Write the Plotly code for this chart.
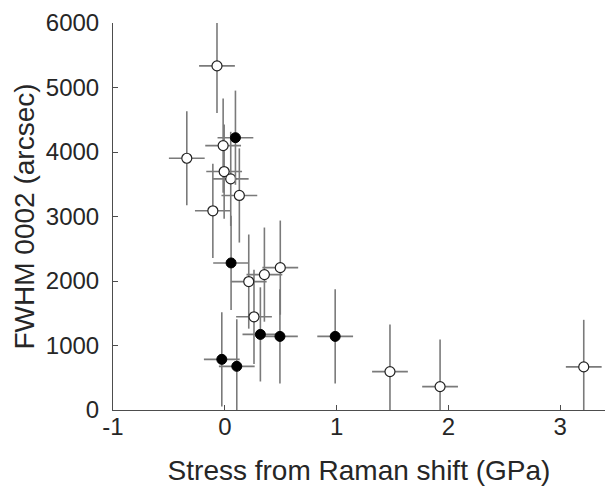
import plotly.graph_objects as go

# Open-circle series
open_x = [-0.07, -0.015, -0.34, -0.006, 0.053, 0.13, -0.107, 0.496, 0.354, 0.214, 0.261, 1.477, 1.925, 3.21]
open_y = [5335, 4099, 3903, 3697, 3583, 3326, 3088, 2207, 2099, 1991, 1445, 595, 363, 668]
# Filled-circle series
fill_x = [0.095, 0.056, 0.318, 0.493, 0.987, -0.027, 0.107]
fill_y = [4222, 2280, 1172, 1141, 1141, 785, 677]

x_err = 0.16
y_err = 730

x_ticks = [-1, 0, 1, 2, 3]
y_ticks = [0, 1000, 2000, 3000, 4000, 5000, 6000]

FONT = "Liberation Sans, Arial, sans-serif"
ebar = dict(color="#7a7a7a", thickness=1.6, width=0)

fig = go.Figure()
fig.add_trace(go.Scatter(
    x=open_x, y=open_y, mode="markers",
    error_x=dict(type="constant", value=x_err, **ebar),
    error_y=dict(type="constant", value=y_err, **ebar),
    marker=dict(symbol="circle", size=10, color="white", line=dict(color="#222", width=1.2)),
    showlegend=False,
))
fig.add_trace(go.Scatter(
    x=fill_x, y=fill_y, mode="markers",
    error_x=dict(type="constant", value=x_err, **ebar),
    error_y=dict(type="constant", value=y_err, **ebar),
    marker=dict(symbol="circle", size=10, color="black", line=dict(color="black", width=1)),
    showlegend=False,
))

fig.update_layout(
    width=605, height=486,
    margin=dict(l=113, r=0, t=23, b=76),
    paper_bgcolor="white", plot_bgcolor="white",
    font=dict(family=FONT, size=24, color="#262626"),
    xaxis=dict(
        range=[-1, 3.4], tickvals=x_ticks, ticktext=[str(v) for v in x_ticks],
        showgrid=False, zeroline=False, showline=True, linecolor="#4d4d4d", linewidth=1,
        ticks="inside", ticklen=5, tickcolor="#4d4d4d",
        tickfont=dict(size=24), ticklabelstandoff=-5,
        title=dict(text="Stress from Raman shift (GPa)", font=dict(size=28), standoff=21),
    ),
    yaxis=dict(
        range=[0, 6000], tickvals=y_ticks, ticktext=[str(v) for v in y_ticks],
        showgrid=False, zeroline=False, showline=True, linecolor="#4d4d4d", linewidth=1,
        ticks="inside", ticklen=5, tickcolor="#4d4d4d",
        tickfont=dict(size=24), ticklabelstandoff=8,
        title=dict(text="FWHM 0002 (arcsec)", font=dict(size=28), standoff=3),
    ),
)

fig.write_html("out.html")
